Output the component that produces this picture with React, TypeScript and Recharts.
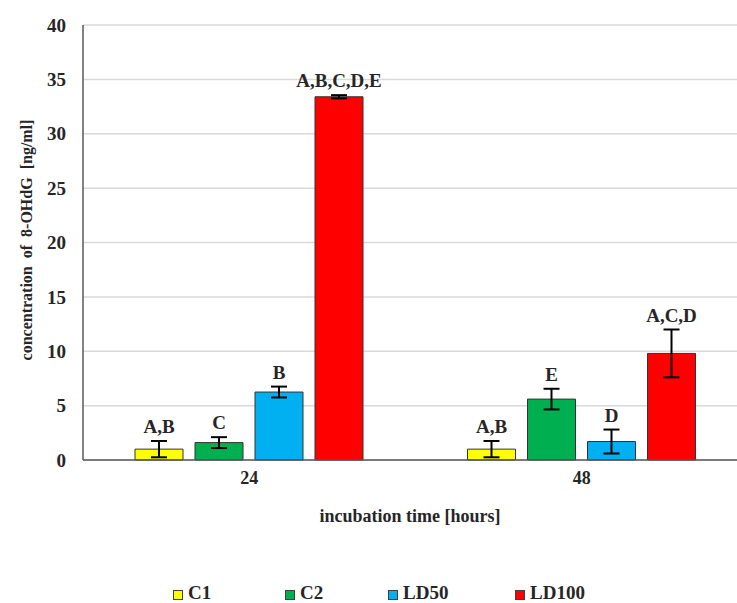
import React from 'react'
import { BarChart, Bar, XAxis, YAxis, CartesianGrid, ErrorBar, Legend, LabelList, Label } from 'recharts'

const hours = ['24', '48']
const c1 = [1.0, 1.0]
const c1Err = [0.75, 0.75]
const c2 = [1.6, 5.6]
const c2Err = [0.5, 0.95]
const ld50 = [6.25, 1.7]
const ld50Err = [0.5, 1.1]
const ld100 = [33.4, 9.8]
const ld100Err = [0.15, 2.2]
const c1Letters = ['A,B', 'A,B']
const c2Letters = ['C', 'E']
const ld50Letters = ['B', 'D']
const ld100Letters = ['A,B,C,D,E', 'A,C,D']
const yTicks = [0, 5, 10, 15, 20, 25, 30, 35, 40]

const FONT = '"Liberation Serif", "Times New Roman", serif'
const INK = '#262626'

const series = [
  { key: 'C1', color: '#ffff00', values: c1, errors: c1Err, letters: c1Letters, slot: 112 },
  { key: 'C2', color: '#00b050', values: c2, errors: c2Err, letters: c2Letters, slot: 103 },
  { key: 'LD50', color: '#00b0f0', values: ld50, errors: ld50Err, letters: ld50Letters, slot: 127 },
  { key: 'LD100', color: '#ff0000', values: ld100, errors: ld100Err, letters: ld100Letters, slot: 80 },
]

const data = hours.map((h, i) => {
  const row: Record<string, string | number> = { hour: h }
  series.forEach(s => {
    row[s.key] = s.values[i]
    row[s.key + '_err'] = s.errors[i]
    row[s.key + '_lab'] = s.letters[i]
  })
  return row
})

const makeLabel = (values: number[], errors: number[]) => (props: any) => {
  const { x, y, width, height, value, index } = props
  const v = values[index]
  // pixels per unit taken from the bar itself
  const errPx = v ? (height / v) * errors[index] : 0
  return (
    <text
      x={x + width / 2}
      y={y - errPx - 8}
      textAnchor="middle"
      fontFamily={FONT}
      fontWeight="bold"
      fontSize={19}
      fill={INK}
    >
      {value}
    </text>
  )
}

const LegendContent = () => (
  <div
    style={{
      display: 'flex',
      alignItems: 'center',
      height: 20,
      lineHeight: '20px',
      paddingLeft: 173,
      fontFamily: FONT,
      fontWeight: 'bold',
      fontSize: 19,
      color: INK,
      whiteSpace: 'nowrap',
    }}
  >
    {series.map(s => (
      <div key={s.key} style={{ display: 'flex', alignItems: 'center', width: s.slot, flex: 'none' }}>
        <span
          style={{
            display: 'inline-block',
            width: 8,
            height: 8,
            background: s.color,
            border: '1px solid #404040',
            marginRight: 5,
            marginTop: 3,
          }}
        />
        <span>{s.key}</span>
      </div>
    ))}
  </div>
)

const YTitle = () => (
  <text
    x={26}
    y={240}
    transform="rotate(-90 26 240)"
    textAnchor="middle"
    dominantBaseline="central"
    fontFamily={FONT}
    fontWeight="bold"
    fontSize={16}
    fill={INK}
    style={{ whiteSpace: 'pre' }}
  >
    {'concentration  of  8-OHdG  [ng/ml]'}
  </text>
)

export default function App() {
  return (
    <div style={{ position: 'absolute', left: 0, top: 0, width: 737, height: 603, background: '#fff' }}>
      <BarChart
        width={737}
        height={603}
        data={data}
        margin={{ top: 25, right: 0, bottom: 0, left: 25 }}
        barSize={48}
        barGap={12}
        style={{ fontFamily: FONT }}
      >
        <CartesianGrid vertical={false} stroke="#d9d9d9" strokeWidth={1.5} />
        <XAxis
          dataKey="hour"
          height={123}
          padding={{ left: 0, right: -11 }}
          axisLine={{ stroke: '#595959', strokeWidth: 1.5 }}
          tickLine={false}
          tickSize={0}
          tickMargin={11}
          tick={{ fill: INK, fontSize: 18, fontWeight: 'bold', fontFamily: FONT }}
        >
          <Label
            value="incubation  time [hours]"
            position="insideTop"
            offset={49}
            style={{ fill: INK, fontSize: 18, fontWeight: 'bold', fontFamily: FONT, whiteSpace: 'pre' }}
          />
        </XAxis>
        <YAxis
          width={58}
          domain={[0, 40]}
          ticks={yTicks}
          interval={0}
          axisLine={{ stroke: '#595959', strokeWidth: 1.5 }}
          tickLine={false}
          tickSize={0}
          tickMargin={17}
          tick={{ fill: INK, fontSize: 19, fontWeight: 'bold', fontFamily: FONT }}
        >
          <Label content={<YTitle />} />
        </YAxis>
        <Legend
          verticalAlign="bottom"
          content={<LegendContent />}
          wrapperStyle={{ left: 0, width: 737, bottom: 0 }}
        />
        {series.map(s => (
          <Bar
            key={s.key}
            dataKey={s.key}
            name={s.key}
            fill={s.color}
            stroke="#333333"
            strokeWidth={1}
            isAnimationActive={false}
          >
            <ErrorBar dataKey={s.key + '_err'} width={8} strokeWidth={2} stroke="#000000" />
            <LabelList dataKey={s.key + '_lab'} content={makeLabel(s.values, s.errors)} />
          </Bar>
        ))}
      </BarChart>
    </div>
  )
}
